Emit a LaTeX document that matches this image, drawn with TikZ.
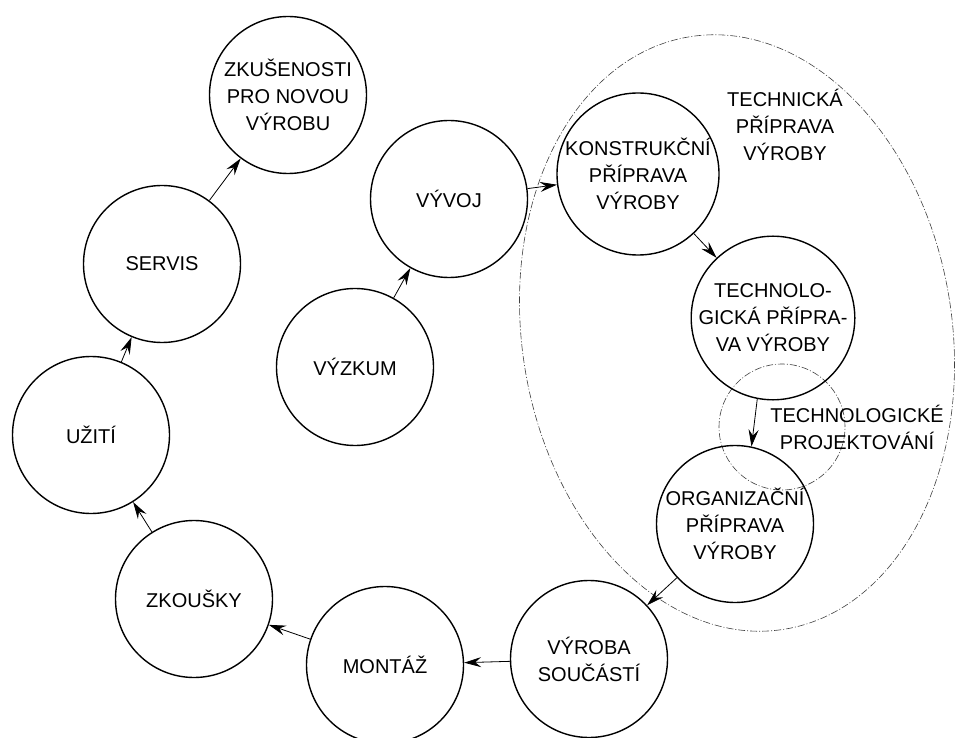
\documentclass[tikz,border=0pt]{standalone}
\usepackage{fontspec}
\setmainfont{Liberation Sans}
\usetikzlibrary{arrows.meta,shapes.geometric}
\begin{document}
\begin{tikzpicture}[x=1pt,y=1pt,
  proc/.style={circle, draw, line width=1.4pt, minimum size=157pt, inner sep=0pt, align=center, font=\fontsize{20}{27}\selectfont},
  flow/.style={-{Stealth[length=17pt,width=10pt,inset=6pt]}, line width=0.8pt},
  zone/.style={draw, line width=0.6pt, dash pattern=on 7pt off 2pt on 1pt off 2pt, black!75},
  lbl/.style={align=center, font=\fontsize{20}{27}\selectfont}]
\useasboundingbox (0,0) rectangle (955,737);
% zones
\node[zone, ellipse, minimum width=430pt, minimum height=600pt, inner sep=0pt, rotate=9] (tp) at (737,404) {};
\node[zone, circle, minimum size=126pt, inner sep=0pt] (tproj) at (782,310) {};
% process nodes
\node[proc] (zku) at (288,642) {ZKUŠENOSTI\\PRO NOVOU\\VÝROBU};
\node[proc] (servis) at (162,473) {SERVIS};
\node[proc] (uziti) at (91,302) {UŽITÍ};
\node[proc] (zkousky) at (194,138) {ZKOUŠKY};
\node[proc] (montaz) at (385,72) {MONTÁŽ};
\node[proc] (vyroba) at (589,78) {VÝROBA\\SOUČÁSTÍ};
\node[proc] (org) at (735,213) {ORGANIZAČNÍ\\PŘÍPRAVA\\VÝROBY};
\node[proc] (tech) at (773,419) {TECHNOLO-\\GICKÁ PŘÍPRA-\\VA VÝROBY};
\node[proc] (konstr) at (638,563) {KONSTRUKČNÍ\\PŘÍPRAVA\\VÝROBY};
\node[proc] (vyvoj) at (449,538) {VÝVOJ};
\node[proc] (vyzkum) at (355,370) {VÝZKUM};
% labels
\node[lbl] (tplbl) at (785,612) {TECHNICKÁ\\PŘÍPRAVA\\VÝROBY};
\node[lbl] (tprojlbl) at (857,310) {TECHNOLOGICKÉ\\PROJEKTOVÁNÍ};
% connectors
\draw[flow] (vyzkum) -- (vyvoj);
\draw[flow] (vyvoj) -- (konstr);
\draw[flow] (konstr) -- (tech);
\draw[flow] (tech.259) -- (org.78);
\draw[flow] (org) -- (vyroba);
\draw[flow] (vyroba) -- (montaz);
\draw[flow] (montaz) -- (zkousky);
\draw[flow] (zkousky) -- (uziti);
\draw[flow] (uziti) -- (servis);
\draw[flow] (servis) -- (zku);
\end{tikzpicture}
\end{document}
